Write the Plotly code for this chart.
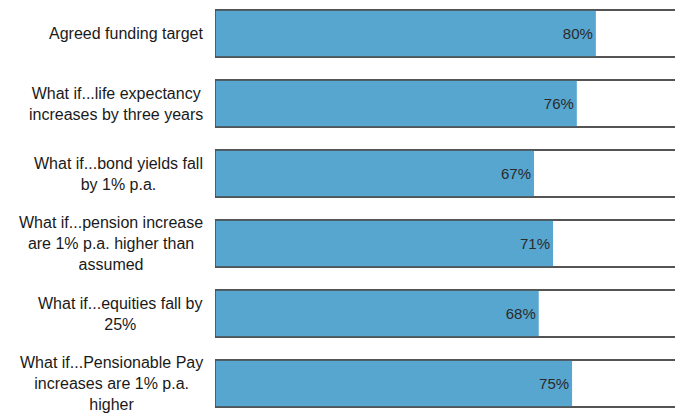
import plotly.graph_objects as go

categories = [
    "Agreed funding target",
    "What if...life expectancy<br>increases by three years",
    "What if...bond yields fall<br>by 1% p.a.",
    "What if...pension increase<br>are 1% p.a. higher than<br>assumed",
    "What if...equities fall by<br>25%",
    "What if...Pensionable Pay<br>increases are 1% p.a.<br>higher",
]
values = [80, 76, 67, 71, 68, 75]
value_labels = [f"{v}%" for v in values]
full_scale = [100] * len(values)

positions = list(range(len(categories)))
bar_width = 47 / 70
BLUE = "#57A6D0"
EDGE = "#4a4a4a"
FONT = "Liberation Sans, Arial, sans-serif"

fig = go.Figure()
fig.add_trace(go.Bar(
    y=positions, x=full_scale, orientation="h", width=bar_width,
    marker=dict(color="white", line=dict(color=EDGE, width=1.5)),
    hoverinfo="skip", showlegend=False,
))
fig.add_trace(go.Bar(
    y=positions, x=values, orientation="h", width=bar_width,
    marker=dict(color=BLUE, line=dict(width=0)),
    text=value_labels, textposition="inside", insidetextanchor="end",
    textfont=dict(family=FONT, size=15, color="#2a2a2a"),
    hoverinfo="skip", showlegend=False,
))
fig.add_trace(go.Bar(
    y=positions, x=full_scale, orientation="h", width=bar_width,
    marker=dict(color="rgba(0,0,0,0)", line=dict(color=EDGE, width=1.5)),
    hoverinfo="skip", showlegend=False,
))

for p, c in zip(positions, categories):
    fig.add_annotation(
        x=0, xref="paper", y=p, yref="y", text=c, showarrow=False,
        xanchor="right", yanchor="middle", align="center", xshift=-10,
        font=dict(family=FONT, size=16, color="#1a1a1a"),
    )

# page body has an 8px margin, so the figure is offset by (8, 8)
fig.update_layout(
    width=675, height=405,
    margin=dict(l=207, r=0, t=0, b=0),
    barmode="overlay",
    plot_bgcolor="white", paper_bgcolor="white",
    xaxis=dict(range=[0, 98.3], visible=False, showgrid=False, zeroline=False),
    yaxis=dict(range=[(405 - 25.5) / 70, -25.5 / 70], visible=False,
               showgrid=False, zeroline=False),
    uniformtext=dict(minsize=8, mode="show"),
)

fig.write_html("out.html")
